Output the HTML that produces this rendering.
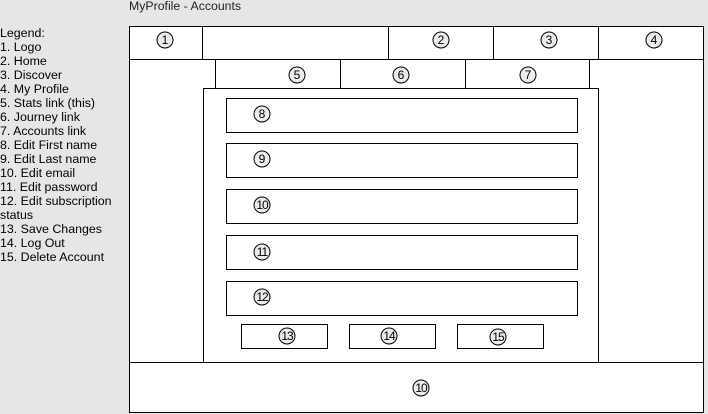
<!DOCTYPE html>
<html><head><meta charset="utf-8"><style>
html,body{margin:0;padding:0;}
body{width:708px;height:414px;background:#e6e6e6;position:relative;overflow:hidden;font-family:"Liberation Sans",sans-serif;}
#leg{position:absolute;left:0;top:26px;font-size:12.4px;line-height:14px;color:#000;white-space:nowrap;}
svg{position:absolute;left:0;top:0;}
</style></head><body>
<div id="leg">Legend:<br>1. Logo<br>2. Home<br>3. Discover<br>4. My Profile<br>5. Stats link (this)<br>6. Journey link<br>7. Accounts link<br>8. Edit First name<br>9. Edit Last name<br>10. Edit email<br>11. Edit password<br>12. Edit subscription<br>status<br>13. Save Changes<br>14. Log Out<br>15. Delete Account</div>
<svg width="708" height="414" xmlns="http://www.w3.org/2000/svg" font-family="Liberation Sans, sans-serif">
<text x="129" y="10" font-size="12.3" fill="#222">MyProfile - Accounts</text>
<g fill="#fff" stroke="#000" stroke-width="1">
<rect x="129.5" y="26.5" width="574" height="386"/>
<line x1="129" y1="59.5" x2="704" y2="59.5"/>
<line x1="202.5" y1="26" x2="202.5" y2="59"/>
<line x1="388.5" y1="26" x2="388.5" y2="59"/>
<line x1="493.5" y1="26" x2="493.5" y2="59"/>
<line x1="598.5" y1="26" x2="598.5" y2="59"/>
<rect x="215.5" y="59.5" width="125" height="29"/>
<rect x="340.5" y="59.5" width="125" height="29"/>
<rect x="465.5" y="59.5" width="124" height="29"/>
<rect x="203.5" y="88.5" width="395" height="274"/>
<line x1="129" y1="362.5" x2="704" y2="362.5"/>
<rect x="226.5" y="98.5" width="351" height="34"/>
<rect x="226.5" y="143.5" width="351" height="34"/>
<rect x="226.5" y="189.5" width="351" height="34"/>
<rect x="226.5" y="235.5" width="351" height="34"/>
<rect x="226.5" y="281.5" width="351" height="34"/>
<rect x="241.5" y="324.5" width="86" height="24"/>
<rect x="349.5" y="324.5" width="86" height="24"/>
<rect x="457.5" y="324.5" width="86" height="24"/>
</g>
<g font-size="12" text-anchor="middle" fill="#000">
<g fill="#ececec" stroke="#000" stroke-width="1">
<circle cx="165" cy="40" r="8"/><circle cx="441" cy="40" r="8"/><circle cx="549" cy="40" r="8"/><circle cx="654" cy="40" r="8"/>
<circle cx="297" cy="75" r="8"/><circle cx="401" cy="75" r="8"/><circle cx="528" cy="75" r="8"/>
<circle cx="262" cy="114" r="8"/><circle cx="262" cy="159" r="8"/><circle cx="262" cy="205" r="8"/><circle cx="262" cy="252" r="8"/><circle cx="262" cy="297" r="8"/>
<circle cx="287" cy="336" r="8"/><circle cx="389" cy="336" r="8"/><circle cx="498" cy="337" r="8"/>
<circle cx="421" cy="388" r="8"/>
</g>
<text x="165" y="44">1</text><text x="441" y="44">2</text><text x="549" y="44">3</text><text x="654" y="44">4</text>
<text x="297" y="79">5</text><text x="401" y="79">6</text><text x="528" y="79">7</text>
<text x="262" y="118">8</text><text x="262" y="163">9</text>
<g letter-spacing="-1"><text x="262" y="209">10</text><text x="262" y="256">11</text><text x="262" y="301">12</text>
<text x="287" y="340">13</text><text x="389" y="340">14</text><text x="498" y="341">15</text>
<text x="421" y="392">10</text></g>
</g>
</svg>
</body></html>
